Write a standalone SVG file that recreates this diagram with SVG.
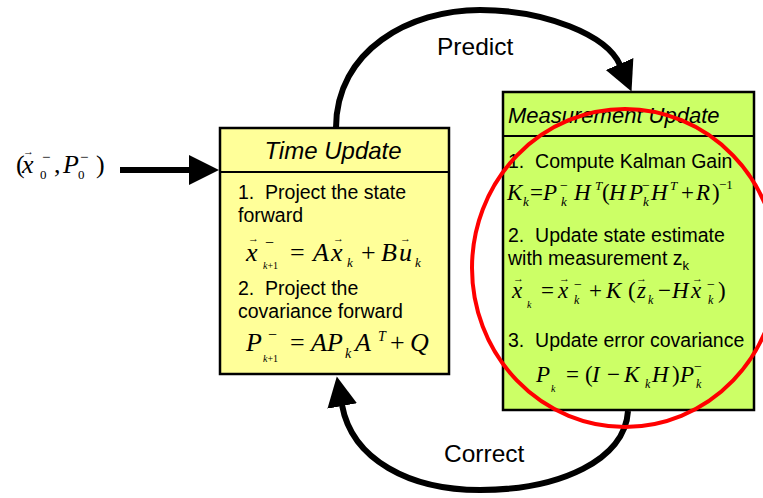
<svg xmlns="http://www.w3.org/2000/svg" width="763" height="498" viewBox="0 0 763 498">
<defs>
<style>
.box{stroke:#000;stroke-width:2.5}
.tu{fill:#FFFF99}
.mu{fill:#CCFF66}
.div{stroke:#000;stroke-width:2}
.hd{font-family:"Liberation Sans",Arial,sans-serif;font-style:italic;fill:#000}
.bd{font-family:"Liberation Sans",Arial,sans-serif;font-size:19.5px;fill:#000}
.lbl{font-family:"Liberation Sans",Arial,sans-serif;font-size:24.5px;fill:#000}
.m{font-family:"Liberation Serif","Times New Roman",serif;fill:#000}
.i{font-style:italic}
.vec{font-family:"Liberation Serif","DejaVu Serif",serif;font-size:11px;fill:#000}
.conn{fill:none;stroke:#000;stroke-width:6}
</style>
<marker id="ah" markerUnits="userSpaceOnUse" markerWidth="32" markerHeight="32" refX="1" refY="15" orient="auto">
<path d="M0,0 L30,15 L0,30 z" fill="#000"/>
</marker>
</defs>
<rect width="763" height="498" fill="#fff"/>

<g id="connectors">
<path class="conn" d="M336,128 C336,50 410,10 480,10 C545,10 607,35 620,65" marker-end="url(#ah)"/>
<path class="conn" d="M628,411 C625,460 560,490 480,490 C410,490 352,460 342,405" marker-end="url(#ah)"/>
<line class="conn" x1="120" y1="170" x2="190" y2="170" stroke-width="5" marker-end="url(#ah)"/>
<text class="lbl" x="437" y="55">Predict</text>
<text class="lbl" x="444" y="462">Correct</text>
</g>

<g id="initial">
<text class="m" font-size="26" x="16" y="173">(</text>
<text class="m i" font-size="26" x="22" y="173">x</text>
<text class="vec" x="23" y="155">→</text>
<text class="m" font-size="13" x="40" y="179">0</text>
<text class="m" font-size="15" x="42" y="162">−</text>
<text class="m" font-size="26" x="54" y="173">,</text>
<text class="m i" font-size="26" x="63" y="173">P</text>
<text class="m" font-size="13" x="78" y="179">0</text>
<text class="m" font-size="15" x="80" y="162">−</text>
<text class="m" font-size="26" x="96" y="173">)</text>
</g>

<g id="time-update">
<rect class="box tu" x="220" y="128" width="229" height="246"/>
<line class="div" x1="220" y1="172" x2="449" y2="172"/>
<text class="hd" font-size="24" x="333" y="159" text-anchor="middle">Time Update</text>
<text class="bd" x="238" y="199" xml:space="preserve">1.  Project the state</text>
<text class="bd" x="238" y="222">forward</text>
<g class="m" font-size="26">
<text class="i" x="246" y="261">x</text>
<text class="vec" x="248" y="242">→</text>
<text font-size="16" x="265" y="248">−</text>
<text class="i" font-size="10" x="263" y="269">k<tspan font-style="normal">+1</tspan></text>
<text x="290" y="261">=</text>
<text class="i" x="313" y="261">A</text>
<text class="i" x="331" y="261">x</text>
<text class="vec" x="333" y="242">→</text>
<text class="i" font-size="13" x="347" y="267">k</text>
<text x="361" y="261">+</text>
<text class="i" x="381" y="261">B</text>
<text class="i" x="399" y="261">u</text>
<text class="vec" x="400" y="242">→</text>
<text class="i" font-size="13" x="415" y="267">k</text>
</g>
<text class="bd" x="238" y="295" xml:space="preserve">2.  Project the</text>
<text class="bd" x="238" y="318">covariance forward</text>
<g class="m" font-size="26">
<text class="i" x="246" y="351">P</text>
<text font-size="16" x="268" y="340">−</text>
<text class="i" font-size="10" x="263" y="362">k<tspan font-style="normal">+1</tspan></text>
<text x="290" y="351">=</text>
<text class="i" x="311" y="351">A</text>
<text class="i" x="327" y="351">P</text>
<text class="i" font-size="14" x="345" y="358">k</text>
<text class="i" x="355" y="351">A</text>
<text class="i" font-size="14" x="378" y="341">T</text>
<text x="390" y="351">+</text>
<text class="i" x="410" y="351">Q</text>
</g>
</g>

<g id="measurement-update">
<rect class="box mu" x="503" y="92" width="251" height="318"/>
<line class="div" x1="503" y1="136" x2="754" y2="136"/>
<text class="hd" font-size="22" x="508" y="123">Measurement Update</text>
<text class="bd" x="508" y="168" xml:space="preserve">1.  Compute Kalman Gain</text>
<g class="m" font-size="23">
<text class="i" x="507" y="200">K</text>
<text class="i" font-size="13" x="523" y="206">k</text>
<text x="530" y="200">=</text>
<text class="i" x="543" y="200">P</text>
<text font-size="14" x="560" y="190">−</text>
<text class="i" font-size="13" x="561" y="206">k</text>
<text class="i" x="574" y="200">H</text>
<text class="i" font-size="13" x="595" y="190">T</text>
<text x="602" y="200">(</text>
<text class="i" x="609" y="200">H</text>
<text class="i" x="629" y="200">P</text>
<text font-size="14" x="642" y="190">−</text>
<text class="i" font-size="13" x="643" y="206">k</text>
<text class="i" x="651" y="200">H</text>
<text class="i" font-size="13" x="670" y="190">T</text>
<text x="681" y="200">+</text>
<text class="i" x="696" y="200">R</text>
<text x="712" y="200">)</text>
<text font-size="13" x="719" y="189">−1</text>
</g>
<text class="bd" x="508" y="242" xml:space="preserve">2.  Update state estimate</text>
<text class="bd" x="508" y="265">with measurement z<tspan font-size="13" dy="5">k</tspan></text>
<g class="m" font-size="23">
<text class="i" x="512" y="298">x</text>
<text class="vec" x="513" y="282">→</text>
<text class="i" font-size="10" x="527" y="308">k</text>
<text x="541" y="298">=</text>
<text class="i" x="558" y="298">x</text>
<text class="vec" x="559" y="282">→</text>
<text font-size="14" x="574" y="289">−</text>
<text class="i" font-size="12" x="574" y="304">k</text>
<text x="589" y="298">+</text>
<text class="i" x="606" y="298">K</text>
<text x="628" y="298">(</text>
<text class="i" x="637" y="298">z</text>
<text class="vec" x="636" y="282">→</text>
<text class="i" font-size="12" x="648" y="304">k</text>
<text x="658" y="298">−</text>
<text class="i" x="672" y="298">H</text>
<text class="i" x="691" y="298">x</text>
<text class="vec" x="692" y="282">→</text>
<text font-size="14" x="707" y="289">−</text>
<text class="i" font-size="12" x="708" y="304">k</text>
<text x="718" y="298">)</text>
</g>
<text class="bd" x="508" y="347" xml:space="preserve">3.  Update error covariance</text>
<g class="m" font-size="23">
<text class="i" x="536" y="382">P</text>
<text class="i" font-size="10" x="551" y="392">k</text>
<text x="566" y="382">=</text>
<text x="585" y="382">(</text>
<text class="i" x="592" y="382">I</text>
<text x="607" y="382">−</text>
<text class="i" x="624" y="382">K</text>
<text class="i" font-size="12" x="645" y="388">k</text>
<text class="i" x="652" y="382">H</text>
<text x="672" y="382">)</text>
<text class="i" x="680" y="382">P</text>
<text font-size="14" x="694" y="371">−</text>
<text class="i" font-size="12" x="696" y="388">k</text>
</g>
</g>

<g id="highlight">
<ellipse cx="625" cy="268" rx="153" ry="159" fill="none" stroke="#FF0000" stroke-width="4"/>
</g>
</svg>
